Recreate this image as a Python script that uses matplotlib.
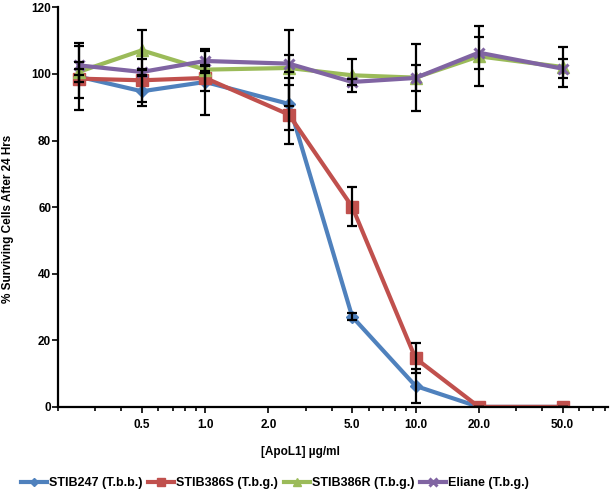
import matplotlib
matplotlib.use("Agg")
import matplotlib.pyplot as plt
from matplotlib.ticker import FixedLocator, FixedFormatter, LogLocator, NullFormatter

plt.rcParams['font.family'] = ['Liberation Sans', 'DejaVu Sans']
plt.rcParams['font.weight'] = 'bold'

## ApoL1 concentrations (ug/ml)
conc = [0.25, 0.5, 1.0, 2.5, 5.0, 10.0, 20.0, 50.0]

## % surviving cells, with error bars
stib247 = [99.2, 94.8, 97.6, 91.0, 27.1, 6.3, 0.0, 0.0]
stib247_err = [10.0, 4.5, 10.0, 7.8, 1.0, 5.0, 0.0, 0.0]
stib386s = [98.6, 98.1, 98.8, 87.8, 60.1, 14.6, 0.0, 0.0]
stib386s_err = [1.0, 6.5, 3.8, 8.8, 5.9, 4.5, 0.0, 0.0]
stib386r = [100.6, 107.1, 101.3, 101.8, 99.6, 98.9, 105.3, 102.1]
stib386r_err = [7.8, 6.0, 1.0, 11.3, 5.0, 10.0, 9.0, 6.0]
eliane = [102.6, 100.6, 103.9, 103.1, 97.6, 98.8, 106.4, 101.6]
eliane_err = [1.0, 1.0, 3.0, 2.5, 1.0, 4.0, 4.8, 2.8]

tick_vals = [0.5, 1.0, 2.0, 5.0, 10.0, 20.0, 50.0]
tick_labels = ['0.5', '1.0', '2.0', '5.0', '10.0', '20.0', '50.0']

series = [
    ('STIB247 (T.b.b.)', stib247, stib247_err, '#4F81BD', 'D', 6),
    ('STIB386S (T.b.g.)', stib386s, stib386s_err, '#C0504D', 's', 8),
    ('STIB386R (T.b.g.)', stib386r, stib386r_err, '#9BBB59', '^', 8),
    ('Eliane (T.b.g.)', eliane, eliane_err, '#8064A2', 'x', 7),
]

fig = plt.figure(figsize=(6.12, 4.92), dpi=100)
ax = fig.add_axes([0.095, 0.173, 0.898, 0.812])

for name, vals, errs, col, mk, ms in series:
    ax.plot(conc, vals, color=col, lw=3, marker=mk, ms=ms, mew=2.2 if mk == 'x' else 1,
            mec=col, mfc=col, label=name, zorder=2)
for name, vals, errs, col, mk, ms in series:
    ax.errorbar(conc, vals, yerr=errs, fmt='none', ecolor='black', elinewidth=1.6,
                capsize=3.5, capthick=1.6, zorder=3)

ax.set_xscale('log')
ax.set_xlim(0.2, 82)
ax.set_ylim(0, 120)
ax.xaxis.set_major_locator(FixedLocator(tick_vals))
ax.xaxis.set_major_formatter(FixedFormatter(tick_labels))
ax.xaxis.set_minor_locator(LogLocator(base=10, subs=range(2, 10)))
ax.xaxis.set_minor_formatter(NullFormatter())
ax.set_yticks(range(0, 121, 20))

for s in ['top', 'right']:
    ax.spines[s].set_visible(False)
for s in ['left', 'bottom']:
    ax.spines[s].set_linewidth(1.6)
ax.tick_params(axis='both', which='both', direction='out', width=1.2, labelsize=8.5)
ax.tick_params(axis='x', which='major', length=4, pad=5)
ax.tick_params(axis='x', which='minor', length=3)
ax.tick_params(axis='y', length=4, pad=1)

ax.set_xlabel('[ApoL1] µg/ml', fontsize=8.5, fontweight='bold')
ax.xaxis.set_label_coords(0.44, -0.0975)
ax.set_ylabel('% Surviving Cells After 24 Hrs', fontsize=8.5, fontweight='bold')
ax.yaxis.set_label_coords(-0.08, 0.47)

fig.legend(loc='center left', bbox_to_anchor=(0.034, 0.018), ncol=4, frameon=False,
           fontsize=9.0, handlelength=2.1, handletextpad=0.15, columnspacing=0.45,
           borderpad=0, borderaxespad=0, markerscale=0.75)

fig.savefig('out.png', dpi=100)
